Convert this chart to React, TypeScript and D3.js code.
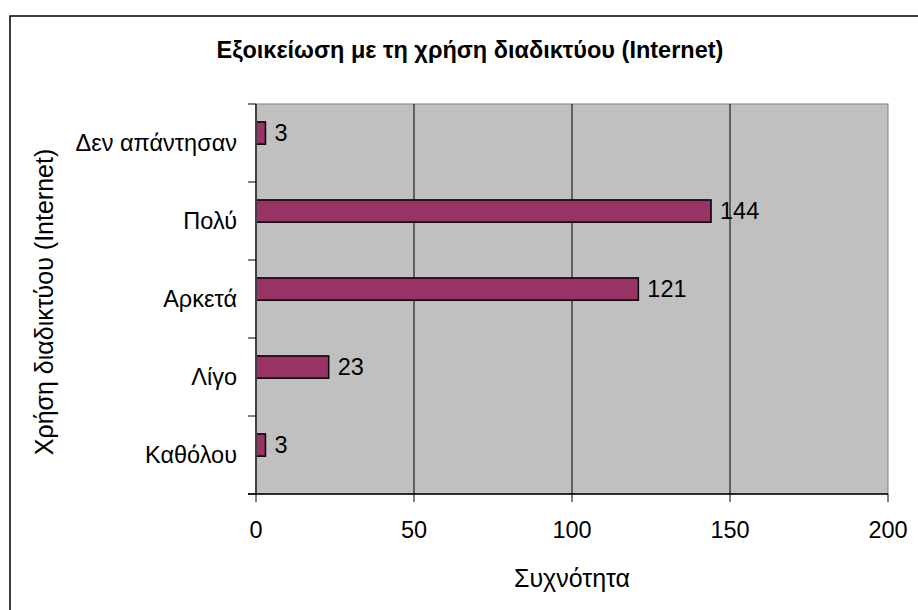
import React from "react";
import * as d3 from "d3";

const categories = ["Δεν απάντησαν", "Πολύ", "Αρκετά", "Λίγο", "Καθόλου"];
const values = [3, 144, 121, 23, 3];
const xTicks = [0, 50, 100, 150, 200];
const title = "Εξοικείωση με τη χρήση διαδικτύου (Internet)";
const xTitle = "Συχνότητα";
const yTitle = "Χρήση διαδικτύου (Internet)";

export default function App() {
  const left = 256, right = 888, top = 104, bottom = 494;
  const x = d3.scaleLinear().domain([0, 200]).range([left, right]);
  const y = d3.scaleBand().domain(categories).range([top, bottom]).paddingInner(0).paddingOuter(0);
  const bw = y.bandwidth();
  const barOff = bw * 0.23;
  const barH = bw * 0.285;
  const font = "Arial, 'Liberation Sans', sans-serif";
  const fs = 23.5;
  const bandEdges = categories.map((c) => y(c)!).concat([bottom]);
  return (
    <svg width={918} height={610} style={{ position: "absolute", left: 0, top: 0 }} fontFamily={font}>
      <rect x={0} y={0} width={918} height={610} fill="#fff" />
      <rect x={10} y={16} width={930} height={620} fill="none" stroke="#000" strokeWidth={1.5} />
      <text x={470} y={58} textAnchor="middle" fontSize={23.5} fontWeight="bold">{title}</text>
      <rect x={left} y={top} width={right - left} height={bottom - top} fill="#C0C0C0" stroke="#808080" strokeWidth={1} />
      {xTicks.slice(1, -1).map((t) => (
        <line key={t} x1={x(t)} x2={x(t)} y1={top} y2={bottom} stroke="#000" strokeWidth={1} />
      ))}
      {categories.map((c, i) => (
        <g key={c}>
          <rect x={x(0)} y={y(c)! + barOff} width={x(values[i]) - x(0)} height={barH}
            fill="#993366" stroke="#000" strokeWidth={1.5} />
          <text x={x(values[i]) + 9} y={y(c)! + barOff + barH / 2} dominantBaseline="central" fontSize={fs}>{values[i]}</text>
          <text x={237} y={y(c)! + bw / 2} textAnchor="end" dominantBaseline="central" fontSize={fs}>{c}</text>
        </g>
      ))}
      <line x1={left} x2={left} y1={top} y2={bottom} stroke="#404040" strokeWidth={2} />
      <line x1={left - 8} x2={right} y1={bottom} y2={bottom} stroke="#000" strokeWidth={1.5} />
      {bandEdges.map((e, i) => (
        <line key={i} x1={left - 8} x2={left} y1={e} y2={e} stroke="#000" strokeWidth={1} />
      ))}
      {xTicks.map((t) => (
        <g key={t}>
          <line x1={x(t)} x2={x(t)} y1={bottom} y2={bottom + 8} stroke="#000" strokeWidth={1} />
          <text x={x(t)} y={530} textAnchor="middle" dominantBaseline="central" fontSize={fs}>{t}</text>
        </g>
      ))}
      <text x={572} y={578} textAnchor="middle" dominantBaseline="central" fontSize={25}>{xTitle}</text>
      <text transform={`translate(44, 302) rotate(-90)`} textAnchor="middle" dominantBaseline="central" fontSize={25}>{yTitle}</text>
    </svg>
  );
}
